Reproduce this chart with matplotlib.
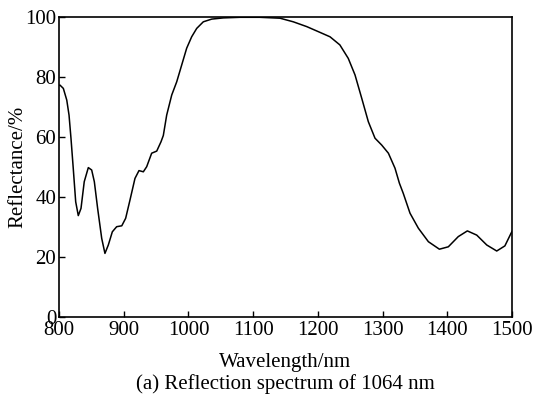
import matplotlib
matplotlib.use("Agg")
from matplotlib import pyplot as plt

# values
wavelength = [800, 801.5, 806.7, 812, 815.5, 818.5, 822, 825.8, 829.8, 834, 839,
              845.3, 850.5, 854.6, 859.7, 866, 871, 876.2, 882.4, 889.1, 897, 903,
              909.7, 917.4, 923.6, 930.3, 935.5, 943.2, 951, 957.6, 961.2, 966.4,
              974.2, 981.9, 989.6, 997.3, 1005, 1012.8, 1023, 1036, 1054, 1080,
              1110, 1141.5, 1162, 1182.8, 1203, 1218.8, 1234, 1247, 1257.4, 1267.8,
              1278, 1288.3, 1298.7, 1309, 1319.2, 1326, 1332, 1342.4, 1355.3,
              1370.8, 1387.8, 1401.6, 1417, 1431, 1445.5, 1461, 1476.4, 1489,
              1498.5, 1500]
reflectance = [77.2, 77.3, 76.2, 72.3, 67.3, 59.6, 49.6, 38.4, 33.8, 36.2, 45.1,
               49.8, 49.0, 45.1, 36.2, 26.2, 21.2, 24.0, 28.4, 30.1, 30.4, 32.9,
               39.0, 46.2, 48.8, 48.4, 50.1, 54.6, 55.3, 58.4, 60.5, 67.3,
               74.0, 78.4, 84.0, 89.6, 93.4, 96.2, 98.4, 99.3, 99.7, 99.9,
               99.9, 99.6, 98.4, 96.8, 94.9, 93.4, 90.7, 86.2, 80.7, 72.9,
               65.1, 59.6, 57.3, 54.6, 49.6, 44.6, 41.2, 34.6, 29.6,
               25.1, 22.6, 23.4, 26.8, 28.7, 27.3, 24.0, 22.0, 23.7,
               27.9, 28.5]

x_ticks = [800, 900, 1000, 1100, 1200, 1300, 1400, 1500]
y_ticks = [0, 20, 40, 60, 80, 100]

plt.rcParams["font.family"] = ["Liberation Serif", "DejaVu Serif"]
plt.rcParams["font.size"] = 15

fig = plt.figure(figsize=(5.37, 3.94), dpi=100)
ax = fig.add_axes([59 / 537, 77 / 394, 453 / 537, 300 / 394])
ax.plot(wavelength, reflectance, color="black", linewidth=1.1,
        solid_joinstyle="round")

ax.set_xlim(800, 1500)
ax.set_ylim(0, 100)
ax.set_xticks(x_ticks)
ax.set_yticks(y_ticks)
ax.tick_params(direction="in", length=4, width=1, pad=2)
ax.tick_params(axis="x", pad=3)
for s in ax.spines.values():
    s.set_linewidth(1.2)

ax.set_xlabel("Wavelength/nm", labelpad=9)
ax.set_ylabel("Reflectance/%", labelpad=-2)
fig.text(0.5 * (59 + 512) / 537, 1 - 384 / 394, "(a) Reflection spectrum of 1064 nm",
         ha="center", va="center", fontsize=15)

fig.savefig("out.png", dpi=100)
